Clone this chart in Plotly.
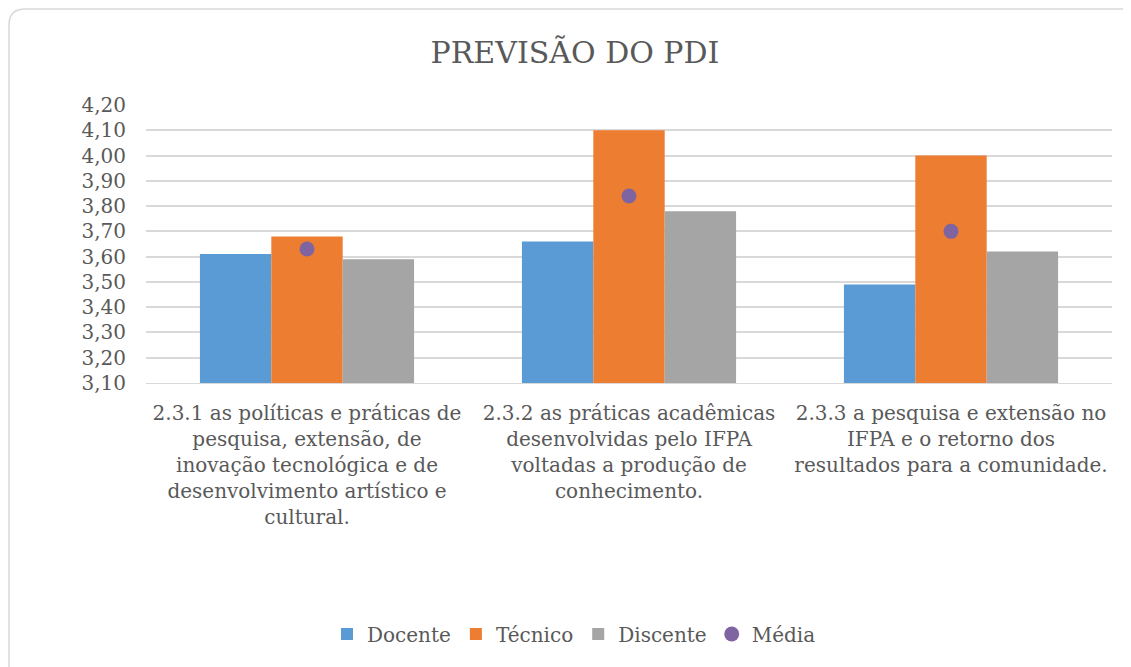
import plotly.graph_objects as go

# dados
categorias = [
    "2.3.1 as políticas e práticas de<br>pesquisa, extensão, de<br>inovação tecnológica e de<br>desenvolvimento artístico e<br>cultural.",
    "2.3.2 as práticas acadêmicas<br>desenvolvidas pelo IFPA<br>voltadas a produção de<br>conhecimento.",
    "2.3.3 a pesquisa e extensão no<br>IFPA e o retorno dos<br>resultados para a comunidade.",
]
docente = [3.61, 3.66, 3.49]
tecnico = [3.68, 4.10, 4.00]
discente = [3.59, 3.78, 3.62]
media = [3.63, 3.84, 3.70]
ticks_y = [3.10, 3.20, 3.30, 3.40, 3.50, 3.60, 3.70, 3.80, 3.90, 4.00, 4.10, 4.20]

FONTE = "DejaVu Serif"
CINZA = "#595959"

# a pagina tem margem de 8px; medidas abaixo em pixels da pagina
OFF = 8
W, H = 1131 - OFF, 667 - OFF
L, T = 146 - OFF, 105 - OFF
pw, ph = 966, 278
R, B = W - L - pw, H - T - ph

def px_x(x):
    return (x - OFF - L) / pw

def px_y(y):
    return (T + ph - (y - OFF)) / ph

fig = go.Figure()
fig.add_trace(go.Bar(x=categorias, y=docente, name="Docente", marker_color="#5B9BD5",
                     marker_line_width=0, base=0))
fig.add_trace(go.Bar(x=categorias, y=tecnico, name="Técnico", marker_color="#ED7D31",
                     marker_line_width=0, base=0))
fig.add_trace(go.Bar(x=categorias, y=discente, name="Discente", marker_color="#A5A5A5",
                     marker_line_width=0, base=0))
fig.add_trace(go.Scatter(x=categorias, y=media, name="Média", mode="markers",
                         marker=dict(color="#8064A2", size=15, line_width=0)))

# moldura arredondada
x0, y0, x1, y1, r = 9, 9, 1150, 690, 16
path = (f"M {px_x(x0)},{px_y(y0 + r)} "
        f"Q {px_x(x0)},{px_y(y0)} {px_x(x0 + r)},{px_y(y0)} "
        f"L {px_x(x1)},{px_y(y0)} L {px_x(x1)},{px_y(y1)} L {px_x(x0)},{px_y(y1)} Z")
fig.add_shape(type="path", path=path, xref="paper", yref="paper",
              line=dict(color="#D9D9D9", width=1.5), fillcolor="rgba(0,0,0,0)", layer="below")

fig.update_layout(
    width=W, height=H,
    margin=dict(l=L, r=R, t=T, b=B),
    paper_bgcolor="white", plot_bgcolor="white",
    separators=",.",
    font=dict(family=FONTE, color=CINZA, size=20),
    title=dict(text="PREVISÃO DO PDI", x=px_x(575), xref="paper", xanchor="center",
               y=1 - (52 - OFF) / H, yanchor="middle", font=dict(size=30, color=CINZA)),
    barmode="group", bargap=0.335, bargroupgap=0,
    showlegend=True,
    legend=dict(orientation="h", x=px_x(574), xanchor="center", xref="paper",
                y=px_y(634), yanchor="middle", font=dict(size=20, color=CINZA),
                itemwidth=30, traceorder="normal"),
    xaxis=dict(showgrid=False, showline=True, linecolor="#D9D9D9", linewidth=1,
               ticks="outside", ticklen=12, tickcolor="white",
               tickfont=dict(size=20, color=CINZA)),
    yaxis=dict(range=[3.10, 4.20], tickvals=ticks_y, tickformat=".2f",
               showgrid=True, gridcolor="#D9D9D9", gridwidth=1.5, zeroline=False,
               ticklabelstandoff=19, tickfont=dict(size=20, color=CINZA)),
)

fig.write_html("out.html")
